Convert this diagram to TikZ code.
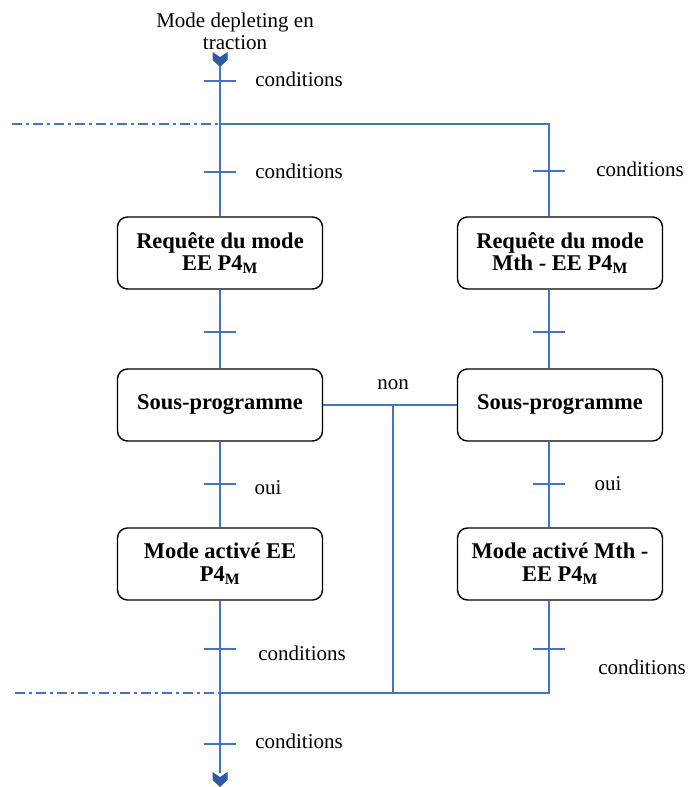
\documentclass[tikz,border=0pt]{standalone}
\usepackage{fontspec}
\setmainfont{Liberation Serif}
\usepackage{tikz}
\usepackage{xcolor}
\usetikzlibrary{calc}
\definecolor{lineblue}{HTML}{4472C4}
\definecolor{chevblue}{HTML}{2F5AA8}

\begin{document}
\begin{tikzpicture}[x=1pt,y=-1pt,every node/.style={align=center},
  etape/.style={draw,line width=1.4pt,rounded corners=10pt,minimum width=205pt,minimum height=72pt,inner sep=2pt,font=\fontsize{22.5}{22.5}\selectfont\bfseries},
  lien/.style={lineblue,line width=1.3pt},
  renvoi/.style={lien,dash pattern=on 10pt off 4pt on 3pt off 4pt},
  txt/.style={font=\fontsize{21}{22}\selectfont},
  chevron/.pic={\fill[chevblue] (-7.5,0) -- (0,5) -- (7.5,0) -- (7.5,8) -- (0,15) -- (-7.5,8) -- cycle;},
  barre/.pic={\draw[lien] (-16,0) -- (16,0);}]
\useasboundingbox (0,0) rectangle (688,787);
% entree et sortie
\node[txt] (titre) at (235,31) {Mode depleting en\\traction};
\pic at (220,52) {chevron};
\coordinate (depart) at (220,66);
\coordinate (fin) at (220,773);
\pic at (220,772) {chevron};
% etapes
\node[etape] (req1) at (220,253) {Requête du mode\\EE P4\textsubscript{M}};
\node[etape] (req2) at (560,253) {Requête du mode\\Mth - EE P4\textsubscript{M}};
\node[etape] (sp1) at (220,405) {Sous-programme};
\node[etape] (sp2) at (560,405) {Sous-programme};
\node[etape] (act1) at (220,564) {Mode activé EE\\P4\textsubscript{M}};
\node[etape] (act2) at (560,564) {Mode activé Mth -\\EE P4\textsubscript{M}};
% divergence / convergence
\coordinate (div1) at (220,124);
\coordinate (div2) at (549,124);
\coordinate (non) at (393,405);
\coordinate (conv1) at (220,693);
\coordinate (conv2) at (393,693);
\coordinate (conv3) at (549,693);
\coordinate (renvoi1) at (12,124);
\coordinate (renvoi2) at (15,693);
\draw[lien] (depart) -- (div1) -- (req1);
\draw[lien] (div1) -- (div2) -- (div2 |- req2.north);
\draw[renvoi] (renvoi1) -- (div1);
\draw[lien] (req1) -- (sp1);
\draw[lien] (sp1) -- (act1);
\draw[lien] (req2.south -| div2) -- (sp2.north -| div2);
\draw[lien] (sp2.south -| div2) -- (act2.north -| div2);
\draw[lien] (sp1) -- (sp2);
\draw[lien] (non) -- (conv2);
\draw[lien] (act1) -- (conv1) -- (fin);
\draw[lien] (act2.south -| div2) -- (conv3) -- (conv1);
\draw[renvoi] (renvoi2) -- (conv1);
% transitions
\foreach \px/\py in {220/81,220/172,220/332,220/484,220/649,220/744,549/171,549/332,549/484,549/649}
  \pic at (\px,\py) {barre};
\node[txt] (cond1) at (299,79) {conditions};
\node[txt] (cond2) at (299,171) {conditions};
\node[txt] (cond3) at (640,169) {conditions};
\node[txt] (oui1) at (268,488) {oui};
\node[txt] (oui2) at (608,484) {oui};
\node[txt] (non1) at (393,385) {non};
\node[txt] (cond4) at (302,653) {conditions};
\node[txt] (cond5) at (642,667) {conditions};
\node[txt] (cond6) at (299,741) {conditions};
\end{tikzpicture}
\end{document}
